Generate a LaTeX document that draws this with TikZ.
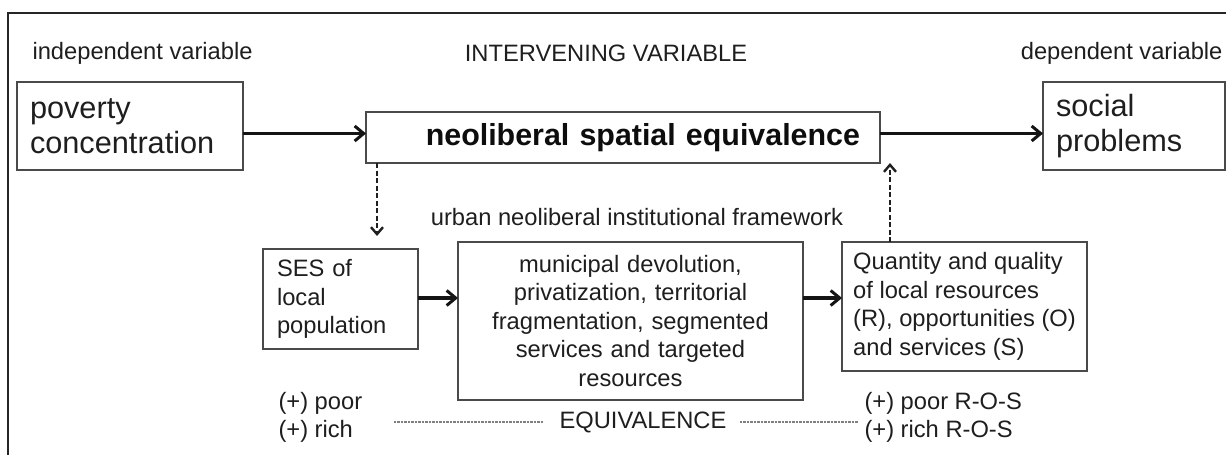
\documentclass[tikz,border=0pt]{standalone}
\usepackage{fontspec}
\setmainfont{Liberation Sans}
\usetikzlibrary{arrows.meta,calc}
\definecolor{txt}{HTML}{1E1E1E}
\definecolor{boxline}{HTML}{4A4A4A}
\tikzset{
  small/.style={font=\fontsize{23.7}{28.5}\selectfont, text=txt},
  big/.style={font=\fontsize{30.7}{35}\selectfont, text=txt},
  box/.style={draw=boxline, line width=2pt, inner sep=0pt, outer sep=0pt},
  arr/.style={line width=3.2pt, draw=black!92, -{Straight Barb[length=9pt,width=15pt,line width=3pt]}},
  darr/.style={line width=2.4pt, draw=black!88, dash pattern=on 5pt off 2.5pt, -{Straight Barb[length=7pt,width=12pt,line width=2.4pt]}},
  dots/.style={line width=2.2pt, draw=black!50, dash pattern=on 2.5pt off 1pt},
}
\begin{document}
\begin{tikzpicture}[x=1pt,y=-1pt]
\useasboundingbox (0,0) rectangle (1226,455);
% outer frame
\draw[line width=2.2pt, draw=black!85] (8,456) -- (8,13) -- (1227,13);

% headings
\node[small, anchor=west] (indep) at (29,53) {independent variable};
\node[small] (interv) at (606,53) {INTERVENING VARIABLE};
\node[small, anchor=east] (dep) at (1226,53) {dependent variable};

% top row boxes
\node[box, big, minimum width=226pt, minimum height=88pt, text width=200pt, align=left] (pov) at (130,126) {poverty\\concentration};
\node[box, minimum width=514pt, minimum height=51pt, text width=474pt, align=right,
      font=\fontsize{30.4}{35}\bfseries\selectfont, text=black!95] (neo) at (623,137.5) {neoliberal spatial equivalence};
\node[box, big, minimum width=182pt, minimum height=88pt, text width=156pt, align=left] (soc) at (1134,126) {social\\problems};

% framework label
\node[small] (urban) at (637,217) {urban neoliberal institutional framework};

% bottom row boxes
\node[box, small, minimum width=155pt, minimum height=100pt, text width=127pt, align=left] (ses) at (340.5,299) {SES of\\local\\population};
\node[box, small, minimum width=345pt, minimum height=158pt, text width=330pt, align=center] (mid) at (630.5,321) {municipal devolution,\\privatization, territorial\\fragmentation, segmented\\services and targeted\\resources};
\node[box, small, minimum width=245pt, minimum height=129pt, align=left] (ros) at (964.5,306.5) {Quantity and quality\\of local resources\\(R), opportunities (O)\\and services (S)};

% bottom labels
\node[small, anchor=west, align=left] (pr) at (275,417.5) {(+) poor\\(+) rich};
\node[small] (eq) at (643,422) {EQUIVALENCE};
\node[small, anchor=west, align=left] (prros) at (861,417.5) {(+) poor R-O-S\\(+) rich R-O-S};

% connectors
\draw[arr] (pov.east |- 0,133.5) -- (neo.west |- 0,133.5);
\draw[arr] (neo.east |- 0,133.5) -- (soc.west |- 0,133.5);
\coordinate (dtip) at (377,236);
\draw[darr] (neo.south -| dtip) -- (dtip);
\draw[darr] (ros.north -| 890,0) -- (neo.south -| 890,0);
\draw[arr] (ses.east |- 0,298) -- (mid.west |- 0,298);
\draw[arr] (mid.east |- 0,298) -- (ros.west |- 0,298);
\draw[dots] ([xshift=-13pt]eq.west) -- ++(-150,0);
\draw[dots] ([xshift=10pt]eq.east) -- ++(118,0);
\end{tikzpicture}
\end{document}
